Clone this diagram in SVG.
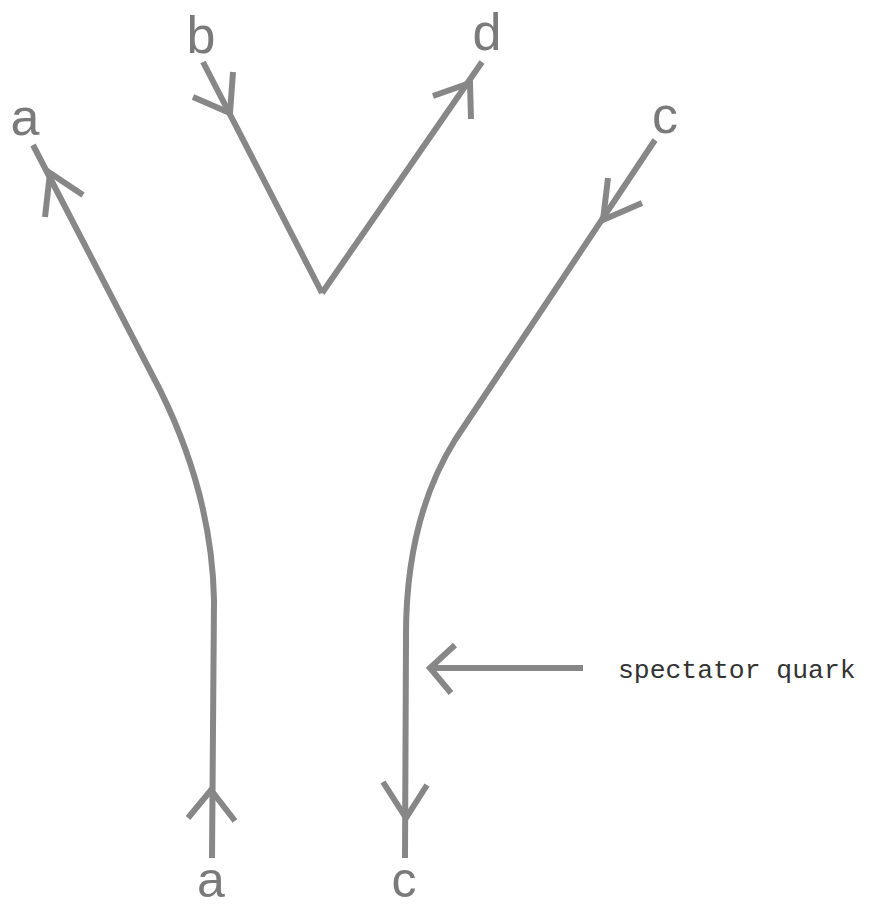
<svg xmlns="http://www.w3.org/2000/svg" width="871" height="908" viewBox="0 0 871 908">
<style>
.ln{fill:none;stroke:#878787;stroke-width:6;stroke-linecap:butt;stroke-linejoin:miter}
.lbl{font-family:"Liberation Sans",Arial,sans-serif;font-size:52px;fill:#7a7a7a;text-anchor:middle}
.lbl2{font-family:"Liberation Sans",Arial,sans-serif;font-size:50px;fill:#7a7a7a;text-anchor:middle}
.note{font-family:"Liberation Mono","Courier New",monospace;font-size:26.4px;fill:#333}
</style>
<rect width="871" height="908" fill="#fff"/>
<g id="connectors">
<path id="line-a" class="ln" d="M33,145 L160,390 Q212,495 214,600 L212,858"/>
<path id="line-b" class="ln" d="M203,62 L322,293"/>
<path id="line-d" class="ln" d="M322,293 L482,62"/>
<path id="line-c" class="ln" d="M655,140 L455,440 Q405,520 406,640 L405,858"/>
<path id="line-spectator" class="ln" d="M583,668 L431,668"/>
<polyline class="ln" points="45,217 50,173 83,195"/>
<polyline class="ln" points="188,818 211,790 235,821"/>
<polyline class="ln" points="193,97 230,113 233,72"/>
<polyline class="ln" points="433,96 470,83 471,119"/>
<polyline class="ln" points="608,178 603,220 642,203"/>
<polyline class="ln" points="383,782 406,818 427,785"/>
<polyline class="ln" points="455,645 430,668 451,693"/>
</g>
<g id="label-a-top"><text class="lbl" x="25" y="135">a</text></g>
<g id="label-b"><text class="lbl" x="201" y="53">b</text></g>
<g id="label-d"><text class="lbl" x="487" y="50">d</text></g>
<g id="label-c-top"><text class="lbl" x="665" y="133">c</text></g>
<g id="label-a-bottom"><text class="lbl2" x="211" y="897">a</text></g>
<g id="label-c-bottom"><text class="lbl2" x="404" y="897">c</text></g>
<g id="label-spectator"><text class="note" x="618" y="678">spectator quark</text></g>
</svg>
